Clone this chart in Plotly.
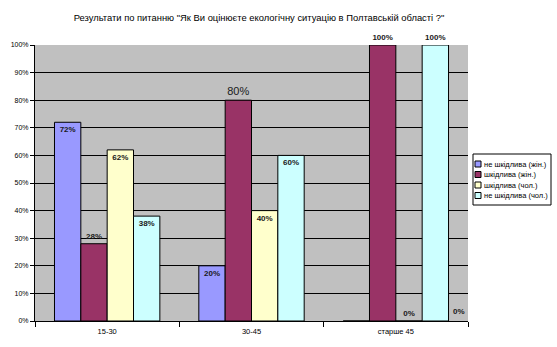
import plotly.graph_objects as go

# Survey answers by age group (share of respondents)
categories = ["15-30", "30-45", "старше 45"]
series_names = ["не шкідлива (жін.)", "шкідлива (жін.)", "шкідлива (чол.)", "не шкідлива (чол.)"]
not_harmful_f = [0.72, 0.20, 0.0]
harmful_f = [0.28, 0.80, 1.0]
harmful_m = [0.62, 0.40, 0.0]
not_harmful_m = [0.38, 0.60, 1.0]

colors = ["#9999FF", "#993366", "#FFFFCC", "#CCFFFF"]
values = [not_harmful_f, harmful_f, harmful_m, not_harmful_m]

# label placement per bar: inside top for most, above for the maroon ones
positions = [
    ["inside", "inside", "none"],
    ["outside", "outside", "outside"],
    ["inside", "inside", "outside"],
    ["inside", "inside", "outside"],
]
sizes = [
    [8, 8, 8],
    [8, 11, 8],
    [8, 8, 8],
    [8, 8, 8],
]
weights = [
    ["bold", "bold", "bold"],
    ["bold", "normal", "bold"],
    ["bold", "bold", "bold"],
    ["bold", "bold", "bold"],
]

FONT = "Liberation Sans, Arial, sans-serif"
TXT = "#1a1a1a"

fig = go.Figure()
for name, vals, col, pos, sz, wt in zip(series_names, values, colors, positions, sizes, weights):
    texts = [f"{round(v * 100)}%" if p != "none" else "" for v, p in zip(vals, pos)]
    tf = dict(family=FONT, size=sz, color=TXT, weight=wt)
    fig.add_trace(go.Bar(
        name=name,
        x=categories,
        y=vals,
        marker=dict(color=col, line=dict(color="black", width=1)),
        text=texts,
        textposition=["inside" if p == "none" else p for p in pos],
        insidetextanchor="end",
        textangle=0,
        cliponaxis=False,
        constraintext="none",
        textfont=tf,
        outsidetextfont=tf,
        insidetextfont=tf,
        showlegend=False,
    ))

# label of the zero-height "не шкідлива (жін.)" bar in the last group, set to the right
fig.add_annotation(
    x=categories[2], y=not_harmful_f[2], xref="x", yref="y",
    text=f"{round(not_harmful_f[2] * 100)}%", showarrow=False,
    xshift=63, yanchor="bottom", yshift=3,
    font=dict(family=FONT, size=8, color=TXT, weight="bold"),
)

# legend box drawn in pixel-based paper coordinates
W, H = 557, 347
L, R, T, B = 35, 89, 45, 26
pw, ph = W - L - R, H - T - B


def px(x):
    return (x - L) / pw


def py(y):
    return (H - B - y) / ph


fig.add_shape(type="rect", xref="paper", yref="paper",
              x0=px(473), x1=px(551), y0=py(205), y1=py(154),
              line=dict(color="black", width=1), fillcolor="white")
row_y = [164, 174.5, 185, 195.5]
for name, col, yy in zip(series_names, colors, row_y):
    fig.add_shape(type="rect", xref="paper", yref="paper",
                  x0=px(475), x1=px(481), y0=py(yy + 3), y1=py(yy - 3),
                  line=dict(color="black", width=1), fillcolor=col)
    fig.add_annotation(x=px(482), y=py(yy), xref="paper", yref="paper",
                       text=name, showarrow=False, xanchor="left", yanchor="middle",
                       font=dict(family=FONT, size=7.5, color="black"))

fig.update_layout(
    width=W, height=H,
    margin=dict(l=L, r=R, t=T, b=B),
    paper_bgcolor="white",
    plot_bgcolor="#C0C0C0",
    barmode="group",
    bargap=0.27,
    bargroupgap=0,
    title=dict(
        text='Результати по питанню "Як Ви оцінюєте екологічну ситуацію в Полтавській області ?"',
        x=259 / W, xanchor="center", y=1 - 18 / H, yanchor="middle",
        font=dict(family=FONT, size=9.4, color="black"),
    ),
    font=dict(family=FONT, size=8, color="black"),
    showlegend=False,
)

fig.update_yaxes(
    range=[0, 1], dtick=0.1, tickformat=".0%",
    showgrid=True, gridcolor="black", gridwidth=1,
    showline=True, linecolor="black", linewidth=1,
    ticks="outside", ticklen=4, tickcolor="black",
    tickfont=dict(family=FONT, size=7, color="black"),
    zeroline=False,
)
fig.update_xaxes(
    showline=True, linecolor="black", linewidth=1,
    ticks="outside", ticklen=5, tickcolor="black",
    tickson="boundaries", ticklabelstandoff=3,
    tickfont=dict(family=FONT, size=7.5, color="black"),
    showgrid=False,
)

fig.write_html("out.html")
